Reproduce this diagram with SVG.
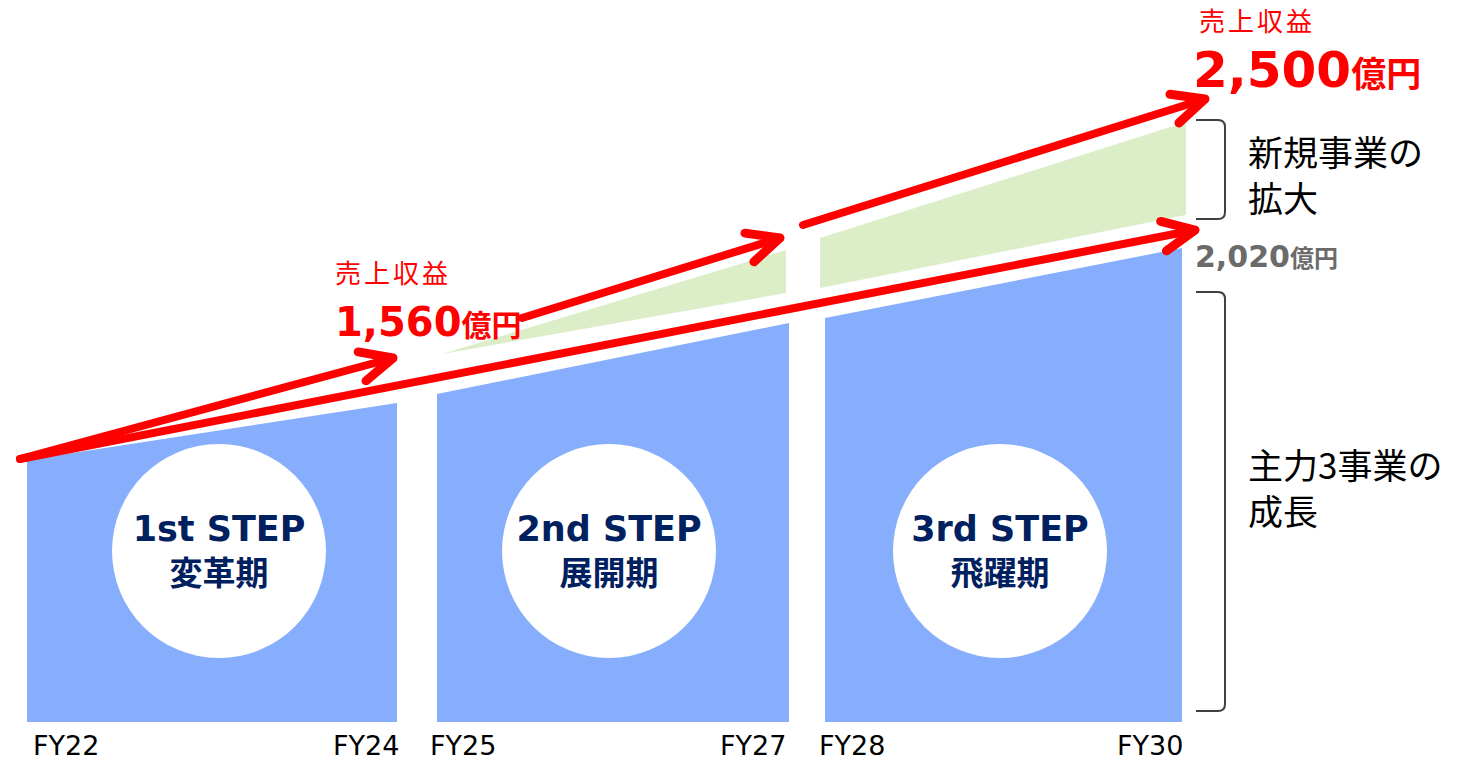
<svg xmlns="http://www.w3.org/2000/svg" width="1468" height="759" viewBox="0 0 1468 759">
<defs>
<style>
.blue{fill:#86aefc;}
.green{fill:#dbeec8;}
.circ{fill:#ffffff;}
.step{font-family:"DejaVu Sans","Noto Sans CJK JP",sans-serif;font-weight:bold;font-size:35px;fill:#002060;text-anchor:middle;}
.stepj{font-family:"Noto Sans CJK JP",sans-serif;font-weight:bold;font-size:33px;fill:#002060;text-anchor:middle;}
.fy{font-family:"DejaVu Sans","Noto Sans CJK JP",sans-serif;font-size:27px;fill:#000000;}
.lab{font-family:"Noto Sans CJK JP",sans-serif;font-size:26px;fill:#ff0000;letter-spacing:3px;}
.num{font-family:"DejaVu Sans","Noto Sans CJK JP",sans-serif;font-weight:bold;fill:#ff0000;}
.unit{font-family:"Noto Sans CJK JP",sans-serif;font-weight:bold;}
.side{font-family:"Noto Sans CJK JP",sans-serif;font-size:35px;fill:#000000;}
.arrow{stroke:#ff0000;stroke-width:8;fill:none;stroke-linecap:round;}
.brk{stroke:#404040;stroke-width:2;fill:none;}
</style>
<marker id="head" markerUnits="userSpaceOnUse" orient="auto" refX="0" refY="0" markerWidth="40" markerHeight="40" overflow="visible">
<path d="M -32,-15 L 0,0 L -32,15" fill="none" stroke="#ff0000" stroke-width="9" stroke-linecap="round" stroke-linejoin="round"/>
</marker>
</defs>
<rect width="1468" height="759" fill="#ffffff"/>

<g id="step1">
<polygon class="blue" points="27,460 397,403 397,722 27,722"/>
<circle class="circ" cx="219" cy="551" r="107"/>
<text class="step" x="219" y="541">1st STEP</text>
<text class="stepj" x="219" y="585">変革期</text>
</g>
<g id="step2">
<polygon class="green" points="442,354 786,250 786,293"/>
<polygon class="blue" points="437,394 789,323 789,722 437,722"/>
<circle class="circ" cx="609" cy="551" r="107"/>
<text class="step" x="609" y="541">2nd STEP</text>
<text class="stepj" x="609" y="585">展開期</text>
</g>
<g id="step3">
<polygon class="green" points="820,238 1186,122 1186,215 820,288"/>
<polygon class="blue" points="825,318 1182,248 1182,722 825,722"/>
<circle class="circ" cx="1000" cy="551" r="107"/>
<text class="step" x="1000" y="541">3rd STEP</text>
<text class="stepj" x="1000" y="585">飛躍期</text>
</g>

<g id="axis-labels">
<text class="fy" x="33" y="755">FY22</text>
<text class="fy" x="333" y="755">FY24</text>
<text class="fy" x="430" y="755">FY25</text>
<text class="fy" x="720" y="755">FY27</text>
<text class="fy" x="819" y="755">FY28</text>
<text class="fy" x="1117" y="755">FY30</text>
</g>

<g id="label-1560">
<text class="lab" x="335" y="283">売上収益</text>
<text class="num" x="335" y="336" font-size="40">1,560<tspan class="unit" font-size="30">億円</tspan></text>
</g>
<g id="label-2500">
<text class="lab" x="1199" y="31">売上収益</text>
<text class="num" x="1193" y="87" font-size="50">2,500<tspan class="unit" font-size="35">億円</tspan></text>
</g>
<g id="label-2020">
<text class="num" x="1195" y="267" font-size="30" style="fill:#6b6b6b">2,020<tspan class="unit" font-size="24">億円</tspan></text>
</g>

<g id="bracket-new">
<path class="brk" d="M1196,120 L1218,120 Q1225,120 1225,127 L1225,212 Q1225,219 1218,219 L1196,219"/>
<text class="side"><tspan x="1248" y="166">新規事業の</tspan><tspan x="1248" y="212">拡大</tspan></text>
</g>
<g id="bracket-core">
<path class="brk" d="M1196,292 L1218,292 Q1225,292 1225,299 L1225,704 Q1225,711 1218,711 L1196,711"/>
<text class="side"><tspan x="1248" y="479">主力3事業の</tspan><tspan x="1248" y="525">成長</tspan></text>
</g>

<g id="connectors">
<line class="arrow" x1="20" y1="459" x2="393" y2="358" marker-end="url(#head)"/>
<line class="arrow" x1="20" y1="459" x2="1195" y2="230" marker-end="url(#head)"/>
<line class="arrow" x1="522" y1="318" x2="780" y2="238" marker-end="url(#head)"/>
<line class="arrow" x1="803" y1="225" x2="1205" y2="99" marker-end="url(#head)"/>
</g>
</svg>
